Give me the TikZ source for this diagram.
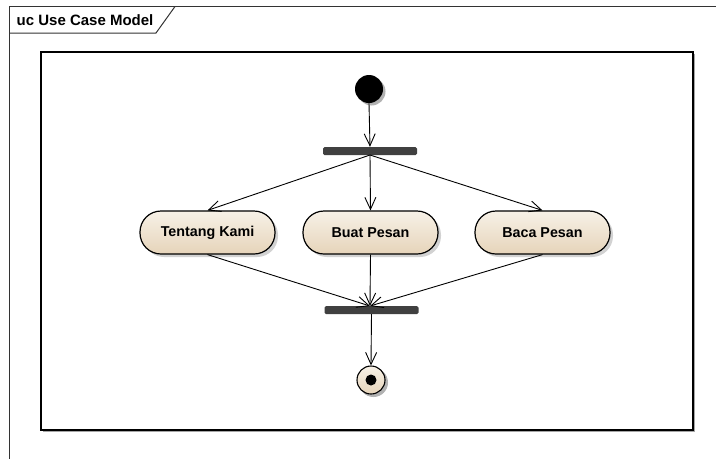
\documentclass[tikz,border=0pt]{standalone}
\usepackage{fontspec}
\setmainfont{Liberation Sans}
\usetikzlibrary{arrows.meta,shadows}
\definecolor{actTop}{HTML}{F7F1E7}
\definecolor{actBot}{HTML}{E6D4BA}
\definecolor{barGray}{HTML}{404040}
\tikzset{
  activity/.style={draw=black, line width=1.2pt, rounded corners=21pt,
    minimum width=135pt, minimum height=43pt, inner sep=0pt,
    top color=actTop, bottom color=actBot,
    drop shadow={shadow xshift=3pt, shadow yshift=-3pt, fill=black!35, opacity=0.5},
    font=\bfseries\fontsize{14.3}{16}\selectfont},
  syncbar/.style={fill=barGray, draw=none, rounded corners=1.5pt, minimum width=94pt,
    minimum height=8pt, inner sep=0pt},
  flow/.style={line width=0.9pt, -{Straight Barb[length=12pt, width=11pt, line width=0.9pt]}},
}
\begin{document}
\begin{tikzpicture}[x=1pt, y=-1pt]
\useasboundingbox (0,0) rectangle (716,459);
% diagram frame (runs off the page on the right and bottom)
\draw[line width=1pt, draw=black!80] (716,6.5) -- (9,6.5) -- (9,459);
% frame tab
\draw[line width=1pt, draw=black!80] (9,33) -- (156,33) -- (175,6.5);
\node[anchor=west, font=\bfseries\fontsize{15}{17}\selectfont, inner sep=0pt] (title) at (16.5,20.5) {uc Use Case Model};
% activity boundary
\fill[black!35] (43,54) rectangle (695,432);
\draw[line width=1.4pt, fill=white] (41,52) rectangle (693,430);

% initial node
\fill[black!30] (371.5,91.5) circle (14pt);
\node[circle, fill=black, minimum size=28pt, inner sep=0pt] (start) at (369,89) {};
% fork and join bars
\node[syncbar] (fork) at (370,151) {};
\node[syncbar] (join) at (371.5,310) {};
% activities
\node[activity] (tk) at (207.5,232.5) {Tentang Kami};
\node[activity] (bp) at (370.5,232.5) {Buat Pesan};
\node[activity] (bc) at (542.5,232.5) {Baca Pesan};
% final node
\fill[black!30] (373.5,382.5) circle (14.5pt);
\node[circle, draw=black, line width=1.1pt, top color=actTop, bottom color=actBot,
      minimum size=28pt, inner sep=0pt] (final) at (371,380) {};
\fill[black] (final.center) circle (5.5pt);

% control flows
\coordinate (fs) at (370,155);
\coordinate (jt) at (370,306);
\draw[flow] (start.south) -- (fork.north);
\draw[flow] (fs) -- (tk.north);
\draw[flow] (fs) -- (bp.north);
\draw[flow] (fs) -- (bc.north);
\draw[flow] (tk.south) -- (jt);
\draw[flow] (bp.south) -- (jt);
\draw[flow] (bc.south) -- (jt);
\draw[flow] (join.south) -- (final.north);
\end{tikzpicture}
\end{document}
